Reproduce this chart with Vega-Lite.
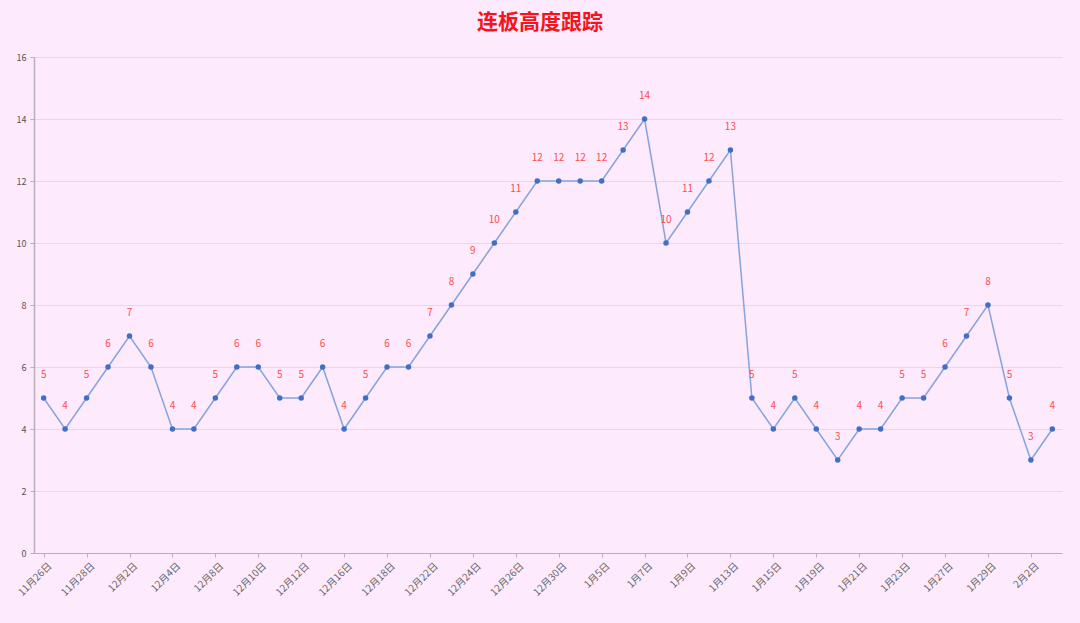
{
  "$schema": "https://vega.github.io/schema/vega-lite/v6.json",
  "width": 1028,
  "height": 496,
  "autosize": {"type": "none"},
  "padding": {"left": 34, "top": 57, "right": 18, "bottom": 70},
  "background": "#fdeafd",
  "title": {
    "text": "连板高度跟踪",
    "color": "#f5141e",
    "fontSize": 21,
    "fontWeight": "bold",
    "font": "Noto Sans CJK SC",
    "anchor": "middle",
    "dx": -8,
    "offset": 20
  },
  "config": {
    "view": {"stroke": null},
    "font": "Noto Sans CJK SC"
  },
  "data": {
    "values": [
      {"date": "11月26日", "v": 5}, {"date": "11月27日", "v": 4},
      {"date": "11月28日", "v": 5}, {"date": "12月1日", "v": 6},
      {"date": "12月2日", "v": 7}, {"date": "12月3日", "v": 6},
      {"date": "12月4日", "v": 4}, {"date": "12月5日", "v": 4},
      {"date": "12月8日", "v": 5}, {"date": "12月9日", "v": 6},
      {"date": "12月10日", "v": 6}, {"date": "12月11日", "v": 5},
      {"date": "12月12日", "v": 5}, {"date": "12月15日", "v": 6},
      {"date": "12月16日", "v": 4}, {"date": "12月17日", "v": 5},
      {"date": "12月18日", "v": 6}, {"date": "12月19日", "v": 6},
      {"date": "12月22日", "v": 7}, {"date": "12月23日", "v": 8},
      {"date": "12月24日", "v": 9}, {"date": "12月25日", "v": 10},
      {"date": "12月26日", "v": 11}, {"date": "12月29日", "v": 12},
      {"date": "12月30日", "v": 12}, {"date": "12月31日", "v": 12},
      {"date": "1月5日", "v": 12}, {"date": "1月6日", "v": 13},
      {"date": "1月7日", "v": 14}, {"date": "1月8日", "v": 10},
      {"date": "1月9日", "v": 11}, {"date": "1月12日", "v": 12},
      {"date": "1月13日", "v": 13}, {"date": "1月14日", "v": 5},
      {"date": "1月15日", "v": 4}, {"date": "1月16日", "v": 5},
      {"date": "1月19日", "v": 4}, {"date": "1月20日", "v": 3},
      {"date": "1月21日", "v": 4}, {"date": "1月22日", "v": 4},
      {"date": "1月23日", "v": 5}, {"date": "1月26日", "v": 5},
      {"date": "1月27日", "v": 6}, {"date": "1月28日", "v": 7},
      {"date": "1月29日", "v": 8}, {"date": "1月30日", "v": 5},
      {"date": "2月2日", "v": 3}, {"date": "2月3日", "v": 4}
    ]
  },
  "encoding": {
    "x": {
      "field": "date",
      "type": "ordinal",
      "sort": null,
      "scale": {"type": "point", "padding": 0.45},
      "axis": {
        "title": null,
        "values": ["11月26日", "11月28日", "12月2日", "12月4日", "12月8日", "12月10日", "12月12日", "12月16日", "12月18日", "12月22日", "12月24日", "12月26日", "12月30日", "1月5日", "1月7日", "1月9日", "1月13日", "1月15日", "1月19日", "1月21日", "1月23日", "1月27日", "1月29日", "2月2日"],
        "labelAngle": -45,
        "labelAlign": "right",
        "labelBaseline": "middle",
        "labelFontSize": 10,
        "labelColor": "#666666",
        "labelPadding": 7,
        "labelOffset": 6,
        "domainColor": "#b8aeb8",
        "tickColor": "#b8aeb8",
        "tickSize": 4,
        "grid": false
      }
    },
    "y": {
      "field": "v",
      "type": "quantitative",
      "scale": {"domain": [0, 16], "nice": false},
      "axis": {
        "title": null,
        "values": [0, 2, 4, 6, 8, 10, 12, 14, 16],
        "labelFontSize": 9,
        "labelColor": "#555555",
        "labelPadding": 4,
        "domain": true,
        "domainColor": "#b8aeb8",
        "domainWidth": 1.5,
        "tickColor": "#b8aeb8",
        "tickSize": 4,
        "grid": true,
        "gridColor": "#ead6ea",
        "gridWidth": 1
      }
    }
  },
  "layer": [
    {
      "mark": {"type": "line", "color": "#86a3dc", "strokeWidth": 1.5}
    },
    {
      "mark": {"type": "point", "filled": true, "size": 30, "color": "#3f6fc6", "opacity": 1}
    },
    {
      "mark": {"type": "text", "color": "#ff4d4d", "fontSize": 10, "dy": -23, "baseline": "middle"},
      "encoding": {"text": {"field": "v", "type": "quantitative"}}
    }
  ]
}
